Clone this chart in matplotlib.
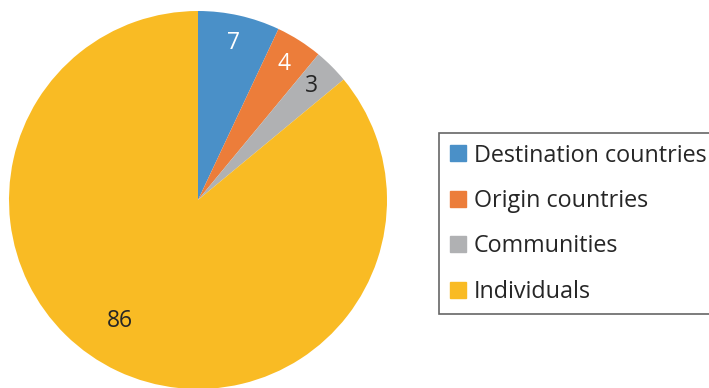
import matplotlib
matplotlib.use("Agg")
import matplotlib.pyplot as plt
from matplotlib.lines import Line2D
import numpy as np

categories = ["Destination countries", "Origin countries", "Communities", "Individuals"]
values = [7, 4, 3, 86]
colors = ["#4a90c8", "#ec7d3a", "#b0b1b3", "#f9bb24"]
label_colors = ["white", "white", "#262626", "#262626"]
label_dist = [0.85, 0.85, 0.85, 0.76]
label_nudge = [0, 0, 0, -7.5]  # degrees

plt.rcParams["font.family"] = ["Open Sans", "DejaVu Sans"]

fig = plt.figure(figsize=(7.09, 3.88), dpi=100)
W, H = 709, 388
cx, cy, r = 198, 200, 189
ax = fig.add_axes([(cx - r) / W, (H - cy - r) / H, 2 * r / W, 2 * r / H])

wedges, _ = ax.pie(values, colors=colors, startangle=90, counterclock=False,
                   radius=1.0, wedgeprops=dict(linewidth=0))
ax.set_xlim(-1, 1)
ax.set_ylim(-1, 1)
ax.set_aspect("equal")
ax.axis("off")

for w, v, c, d, n in zip(wedges, values, label_colors, label_dist, label_nudge):
    ang = np.deg2rad((w.theta1 + w.theta2) / 2 + n)
    ax.text(d * np.cos(ang), d * np.sin(ang), str(v), ha="center", va="center",
            fontsize=16.5, color=c)

handles = [Line2D([], [], marker="s", linestyle="none", markersize=11,
                  markerfacecolor=c, markeredgecolor=c) for c in colors]
leg = fig.legend(handles, categories, loc="upper left",
                 bbox_to_anchor=(438.5 / W, 1 - 133 / H), fontsize=16.8,
                 frameon=True, fancybox=False, edgecolor="#404040",
                 handlelength=0.75, handletextpad=0.3, labelspacing=0.92,
                 borderpad=0.45, borderaxespad=0)
leg.get_frame().set_linewidth(1.2)
for t in leg.get_texts():
    t.set_color("#262626")

fig.savefig("out.png", dpi=100)
